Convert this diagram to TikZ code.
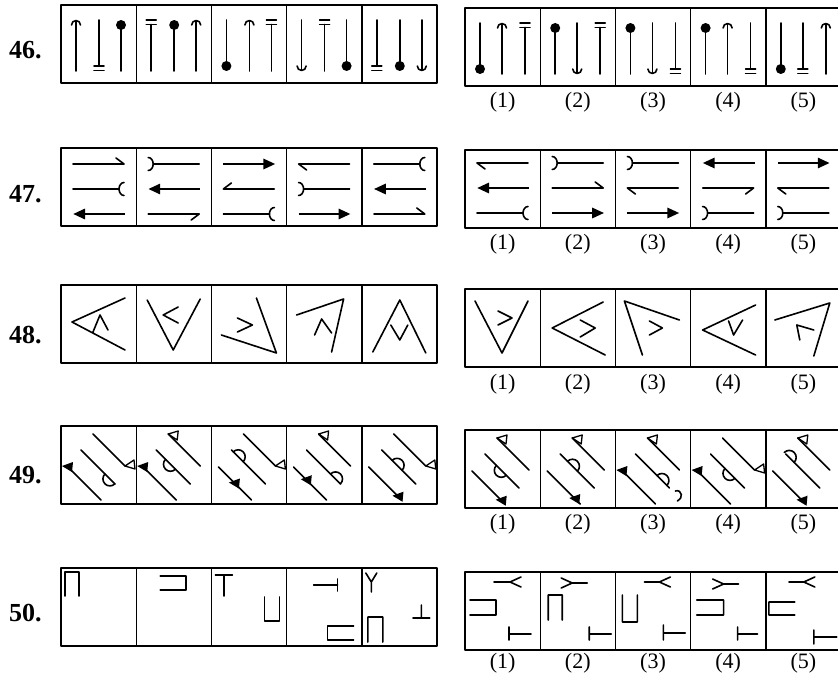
\documentclass[tikz,border=0pt]{standalone}
\usepackage{fontspec}
\newfontfamily\qfont{Liberation Serif}
\usetikzlibrary{arrows.meta}
\tikzset{
  frame/.style={line width=1.4pt},
  glyph/.style={line width=1.6pt,line cap=round},
  heavy arrow/.style={line width=2.8pt,-{Triangle[length=12pt,width=10pt]}},
  qnum/.style={font=\qfont\bfseries\fontsize{26}{28}\selectfont,anchor=west,inner sep=0pt},
  optlabel/.style={font=\qfont\fontsize{22}{24}\selectfont,inner sep=0pt},
}
% one row of five question cells and five answer cells
\newcommand\framerow[2]{\foreach \i in {0,...,4}{%
  \draw[frame] (61+75.2*\i,#1) rectangle ++(75.2,78);
  \draw[frame] (465+75.2*\i,#2) rectangle ++(75.2,78);}}
% 46: poles (cell coordinates, y downwards)
\newcommand\poleAu[1]{\draw[glyph] (#1,16)--(#1,66); \draw[glyph] (#1-4.5,20) arc[start angle=180,end angle=360,radius=4.5];}
\newcommand\poleAd[1]{\draw[glyph] (#1,15)--(#1,65); \draw[glyph] (#1-4.5,61) arc[start angle=180,end angle=0,radius=4.5];}
\newcommand\poleDu[1]{\fill (#1,20) circle (5); \draw[glyph] (#1,20)--(#1,66);}
\newcommand\poleDd[1]{\draw[glyph] (#1,15)--(#1,61); \fill (#1,61) circle (5);}
\newcommand\poleBu[1]{\draw[glyph] (#1-5,15)--(#1+5,15) (#1-5,19.5)--(#1+5,19.5) (#1,19.5)--(#1,66);}
\newcommand\poleBd[1]{\draw[glyph] (#1,15)--(#1,61) (#1-5,61)--(#1+5,61) (#1-5,65.5)--(#1+5,65.5);}
% 47: bars
\newcommand\harpRa[1]{\draw[glyph] (12,#1)--(63,#1)--(55,#1-6);}
\newcommand\harpRb[1]{\draw[glyph] (12,#1)--(63,#1)--(55,#1+6);}
\newcommand\harpLa[1]{\draw[glyph] (63,#1)--(12,#1)--(20,#1-6);}
\newcommand\harpLb[1]{\draw[glyph] (63,#1)--(12,#1)--(20,#1+6);}
\newcommand\cupR[1]{\draw[glyph] (12,#1)--(58,#1); \draw[glyph] (63,#1-6.5) arc[start angle=270,end angle=90,x radius=5,y radius=6.5];}
\newcommand\cupL[1]{\draw[glyph] (17,#1)--(63,#1); \draw[glyph] (12,#1-6.5) arc[start angle=270,end angle=450,x radius=5,y radius=6.5];}
\newcommand\arrR[1]{\draw[heavy arrow] (12,#1)--(64,#1);}
\newcommand\arrL[1]{\draw[heavy arrow] (64,#1)--(12,#1);}
% 49: slanted lines and their marks
\newcommand\slants{\draw[glyph] (32,8)--(64,40) (20,24)--(54,58) (7,41)--(40,74);}
\newcommand\wflagU{\draw[glyph,line width=1.3pt] (32,8)--(42,5)--(41,14)--cycle;}
\newcommand\wflagD{\draw[glyph,line width=1.3pt] (64,40)--(73,34)--(74,43)--cycle;}
\newcommand\bflag[1]{\fill[shift={(7+33*#1,41+33*#1)}] (-6,-1)--(5,-5)--(4,5)--cycle;}
\newcommand\halfdisc[2]{\draw[glyph] (20+34*#1,24+34*#1) ++(225:7) arc[start angle=225,delta angle=#2,radius=7];}
\begin{document}
\begin{tikzpicture}[x=1pt,y=1pt,yscale=-1,line join=round]
\useasboundingbox (0,0) rectangle (838,679);
\framerow{5}{8}
\framerow{148}{150}
\framerow{285}{289}
\framerow{426}{430}
\framerow{568}{572}
% row numbers
\node[qnum] (n46) at (9,50) {46.};
\node[qnum] (n47) at (9,194) {47.};
\node[qnum] (n48) at (9,335) {48.};
\node[qnum] (n49) at (9,475) {49.};
\node[qnum] (n50) at (9,613) {50.};
\foreach \r/\y in {46/102,47/244,48/384,49/524,50/663}
  \foreach \k in {1,...,5}
    \node[optlabel] (opt\r-\k) at (427.4+75.2*\k,\y) {(\k)};
% 46
\foreach \k/\a/\b/\c in {0/Au/Bd/Du,1/Bu/Du/Au,2/Dd/Au/Bu,3/Ad/Bu/Dd,4/Bd/Dd/Ad}{
  \begin{scope}[shift={(61+75.2*\k,5)}]
    \csname pole\a\endcsname{15}\csname pole\b\endcsname{38}\csname pole\c\endcsname{60}
  \end{scope}}
\foreach \k/\a/\b/\c in {0/Dd/Au/Bu,1/Du/Ad/Bu,2/Du/Ad/Bd,3/Du/Au/Bd,4/Dd/Bd/Au}{
  \begin{scope}[shift={(465+75.2*\k,8)}]
    \csname pole\a\endcsname{15}\csname pole\b\endcsname{37}\csname pole\c\endcsname{60}
  \end{scope}}
% 47
\foreach \k/\a/\b/\c in {0/harpRa/cupR/arrL,1/cupL/arrL/harpRb,2/arrR/harpLa/cupR,3/harpLb/cupL/arrR,4/cupR/arrL/harpRa}{
  \begin{scope}[shift={(61+75.2*\k,148)}]
    \csname\a\endcsname{16}\csname\b\endcsname{41}\csname\c\endcsname{66}
  \end{scope}}
\foreach \k/\a/\b/\c in {0/harpLb/arrL/cupR,1/cupL/harpRa/arrR,2/cupL/harpLb/arrR,3/arrL/harpRb/cupL,4/arrR/harpLb/cupL}{
  \begin{scope}[shift={(465+75.2*\k,150)}]
    \csname\a\endcsname{13}\csname\b\endcsname{38}\csname\c\endcsname{63}
  \end{scope}}
% 48
\draw[glyph,shift={(61,285)}] (64,13)--(11,37)--(64,65) (32,47)--(39,30)--(47,45);
\draw[glyph,shift={(136.2,285)}] (11,15)--(37,65)--(64,14) (42,22)--(27,30)--(42,38);
\draw[glyph,shift={(211.4,285)}] (10,50)--(65,68)--(45,13) (26,33)--(41,40)--(26,47);
\draw[glyph,shift={(286.6,285)}] (10,30)--(57,14)--(45,67) (28,50)--(35,34)--(45,48);
\draw[glyph,shift={(361.8,285)}] (11,67)--(38,15)--(64,68) (29,40)--(38,55)--(46,40);
\draw[glyph,shift={(465,289)}] (10,12)--(37,64)--(63,12) (33,22)--(47,29)--(33,36);
\draw[glyph,shift={(540.2,289)}] (63,13)--(12,39)--(65,66) (40,31)--(55,39)--(40,48);
\draw[glyph,shift={(615.4,289)}] (64,31)--(9,12)--(27,66) (34,32)--(47,39)--(34,46);
\draw[glyph,shift={(690.6,289)}] (65,16)--(12,41)--(65,66) (38,32)--(43,46)--(52,31);
\draw[glyph,shift={(765.8,289)}] (9,31)--(64,14)--(48,67) (48,41)--(31,36)--(34,51);
% 49
\foreach \k/\w/\s/\d/\b in {0/D/0.85/-180/0,1/U/0.42/-180/0,2/D/0.2/180/0.5,3/U/0.85/180/0.4,4/D/0.45/180/0.9}{
  \begin{scope}[shift={(61+75.2*\k,426)}]
    \slants \csname wflag\w\endcsname \halfdisc{\s}{\d} \bflag{\b}
  \end{scope}}
\foreach \k/\w/\s/\d/\b in {0/U/0.48/-180/0.9,1/U/0.36/180/0.85,2/U/0.78/180/0,3/D/0.57/-180/0,4/U/0.1/180/0.9}{
  \begin{scope}[shift={(465+75.2*\k,430)}]
    \slants \csname wflag\w\endcsname \halfdisc{\s}{\d} \bflag{\b}
  \end{scope}}
\draw[glyph,shift={(615.4,430)}] (60,61) .. controls (67,59) and (68,69) .. (62,71);
% 50
\draw[glyph,shift={(61,568)}] (4,28)--(4,4)--(18,4)--(18,28);
\draw[glyph,shift={(136.2,568)}] (24,8)--(50,8)--(50,22)--(24,22);
\draw[glyph,shift={(211.4,568)}] (4,7)--(21,7) (12.5,7)--(12.5,28) (53,29)--(53,53)--(68,53)--(68,29);
\draw[glyph,shift={(286.6,568)}] (27,17)--(51,17) (51,11)--(51,23) (67,58)--(41,58)--(41,72)--(67,72);
\draw[glyph,shift={(361.8,568)}] (4,5)--(9.5,14)--(15,5) (9.5,14)--(9.5,24) (59.5,37)--(59.5,50) (51,50)--(68,50) (6,74)--(6,49)--(21,49)--(21,74);
\draw[glyph,shift={(465,572)}] (29,10)--(45,10) (56,5)--(45,10)--(56,15) (5,28)--(31,28)--(31,43)--(5,43) (44,55)--(44,68) (44,62)--(66,62);
\draw[glyph,shift={(540.2,572)}] (21,6)--(32,11)--(21,16) (32,11)--(47,11) (8,48)--(8,23)--(22,23)--(22,48) (49,55)--(49,68) (49,62)--(71,62);
\draw[glyph,shift={(615.4,572)}] (29,10)--(44,10) (55,5)--(44,10)--(55,15) (7,23)--(7,50)--(22,50)--(22,23) (48,53)--(48,68) (48,61)--(70,61);
\draw[glyph,shift={(690.6,572)}] (22,7)--(33,12)--(22,17) (33,12)--(48,12) (6,28)--(33,28)--(33,43)--(6,43) (47,55)--(47,68) (47,62)--(67,62);
\draw[glyph,shift={(765.8,572)}] (23,10)--(38,10) (49,5)--(38,10)--(49,15) (29,30)--(3,30)--(3,43)--(29,43) (48,58)--(48,72) (48,65)--(71,65);
\end{tikzpicture}
\end{document}
